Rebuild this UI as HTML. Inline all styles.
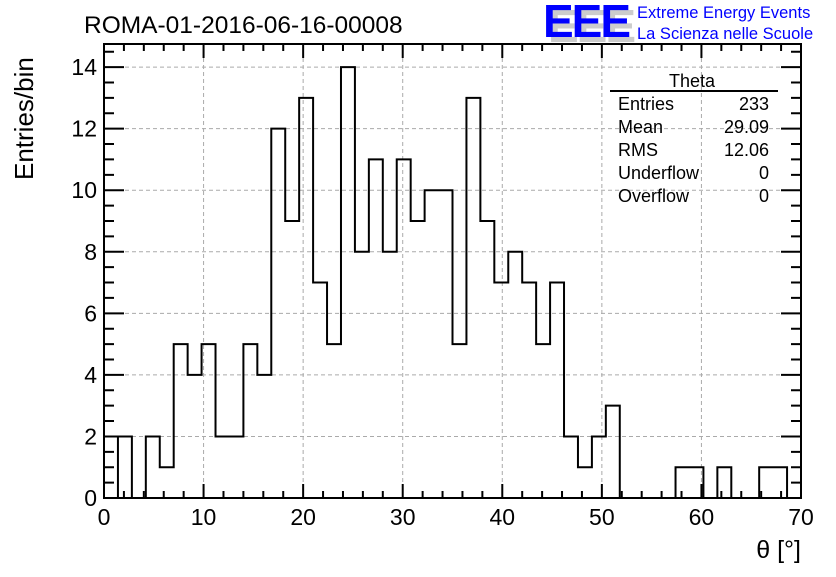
<!DOCTYPE html>
<html><head><meta charset="utf-8"><style>
body{margin:0;background:#fff;}
svg text{font-family:"Liberation Sans",sans-serif;}
</style></head><body>
<svg id="c" width="836" height="572" xmlns="http://www.w3.org/2000/svg">
<rect width="836" height="572" fill="#fff"/>
<text x="84" y="33" font-size="24.5">ROMA-01-2016-06-16-00008</text>
<g>
<text x="548" y="42" font-size="46" font-weight="bold" fill="#ccc" letter-spacing="-2">EEE</text>
<text x="543" y="37" font-size="46" font-weight="bold" fill="#0000ff" letter-spacing="-2">EEE</text>
<text x="637" y="18" font-size="16.5" fill="#0000ff">Extreme Energy Events</text>
<text x="637" y="39" font-size="16.5" fill="#0000ff">La Scienza nelle Scuole</text>
</g>
<g id="grid"></g>
<g id="hist"></g>
<g id="axes"></g>
<text x="801" y="558" font-size="25" text-anchor="end">θ [°]</text>
<text transform="translate(33,180) rotate(-90)" font-size="26" text-anchor="start">Entries/bin</text>
<g font-size="18">
<text x="692" y="87" text-anchor="middle">Theta</text>
<line x1="610" y1="91" x2="778" y2="91" stroke="#000" stroke-width="2"/>
<text x="618" y="110">Entries</text><text x="769" y="110" text-anchor="end">233</text>
<text x="618" y="133">Mean</text><text x="769" y="133" text-anchor="end">29.09</text>
<text x="618" y="156">RMS</text><text x="769" y="156" text-anchor="end">12.06</text>
<text x="618" y="179">Underflow</text><text x="769" y="179" text-anchor="end">0</text>
<text x="618" y="202">Overflow</text><text x="769" y="202" text-anchor="end">0</text>
</g>
</svg>
<script>
const counts=[0,2,0,2,1,5,4,5,2,2,5,4,12,9,13,7,5,14,8,11,8,11,9,10,10,5,13,9,7,8,7,5,7,2,1,2,3,0,0,0,0,1,1,0,1,0,0,1,1,0];
const xTicks=[0,10,20,30,40,50,60,70];
const yTicks=[0,2,4,6,8,10,12,14];
const xMin=0,xMax=70,yMin=0,yMax=14.75;
const L=104,R=801,T=44,B=498;
const X=v=>L+(v-xMin)/(xMax-xMin)*(R-L);
const Y=v=>B-(v-yMin)/(yMax-yMin)*(B-T);
const NS="http://www.w3.org/2000/svg";
function mk(tag,attrs,parent){const e=document.createElementNS(NS,tag);for(const k in attrs)e.setAttribute(k,attrs[k]);parent.appendChild(e);return e;}
const grid=document.getElementById('grid'),axes=document.getElementById('axes'),hist=document.getElementById('hist');
xTicks.forEach(t=>{if(t>xMin&&t<xMax){const l=mk('line',{x1:X(t),x2:X(t),y1:T,y2:B,stroke:'#aaa','stroke-dasharray':'4,3'},grid);

}});
yTicks.forEach(t=>{if(t>yMin){const l=mk('line',{x1:L,x2:R,y1:Y(t),y2:Y(t),stroke:'#aaa','stroke-dasharray':'4,3'},grid);

}});
const bw=(xMax-xMin)/counts.length;
let d=`M${X(0)},${Y(0)}`;
counts.forEach((c,i)=>{d+=` L${X(i*bw)},${Y(c)} L${X((i+1)*bw)},${Y(c)}`;});
d+=` L${X(xMax)},${Y(0)}`;
const p=mk('path',{d:d,fill:'none',stroke:'#000','stroke-width':2},hist);


const fr=mk('rect',{x:L,y:T,width:R-L,height:B-T,fill:'none',stroke:'#000','stroke-width':2},axes);


let td='';
for(let v=xMin;v<=xMax+1e-9;v+=2){const len=(Math.round(v)%10===0)?14:7;td+=`M${X(v)},${B}v${-len}M${X(v)},${T}v${len}`;}
for(let v=yMin;v<=yMax+1e-9;v+=0.5){const len=(Math.abs(v-Math.round(v))<1e-6&&Math.round(v)%2===0)?20:10;td+=`M${L},${Y(v)}h${len}M${R},${Y(v)}h${-len}`;}
const tk=mk('path',{d:td,stroke:'#000','stroke-width':2,fill:'none'},axes);


xTicks.forEach(t=>{const e=mk('text',{x:X(t),y:525,'font-size':23,'text-anchor':'middle'},axes);e.textContent=t;

});
yTicks.forEach(t=>{const e=mk('text',{x:97,y:Y(t)+8,'font-size':23,'text-anchor':'end'},axes);e.textContent=t;

});
</script>
</body></html>
